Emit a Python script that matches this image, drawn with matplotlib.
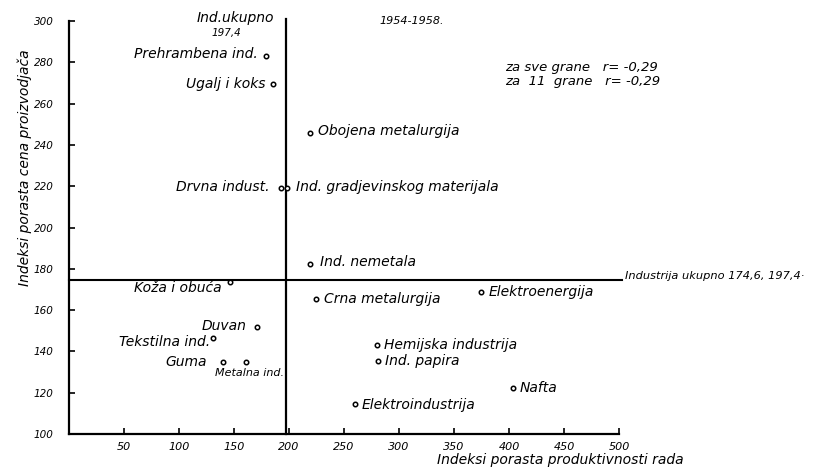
import matplotlib
matplotlib.use("Agg")
import matplotlib.pyplot as plt

# grane industrije: indeks produktivnosti (x), indeks cena (y)
grane = ["Prehrambena ind.", "Ugalj i koks", "Obojena metalurgija", "Drvna indust.",
         "Ind. gradjevinskog materijala", "Ind. nemetala", "Koža i obuća",
         "Crna metalurgija", "Elektroenergija", "Duvan", "Tekstilna ind.", "Guma",
         "Metalna ind.", "Hemijska industrija", "Ind. papira", "Elektroindustrija", "Nafta"]
produktivnost = [179, 185.5, 219, 193, 198, 219, 146, 224.5, 374.5, 171, 131, 140,
                 161, 280, 281, 260, 403.6]
cene = [283, 269.5, 246, 219, 219, 182.3, 173.5, 165.6, 168.8, 152, 146.5, 135,
        135, 143, 135.4, 114.5, 122.3]

ukupno_x = 197.4
ukupno_y = 174.6

x_ticks = [50, 100, 150, 200, 250, 300, 350, 400, 450, 500]
y_ticks = [100, 120, 140, 160, 180, 200, 220, 240, 260, 280, 300]

# pomak natpisa od tacke (px) i poravnanje
offsets = [(-8, 2, "right"), (-8, 0, "right"), (8, 2, "left"), (-12, 1, "right"),
           (9, 1, "left"), (10, 2, "left"), (-8, -6, "right"), (8, 0, "left"),
           (8, 0, "left"), (-11, 1, "right"), (-3, -4, "right"), (-16, 0, "right"),
           (-31, -11, "left"), (7, 0, "left"), (7, 0, "left"), (7, -1, "left"),
           (7, 0, "left")]

fig = plt.figure(figsize=(8.16, 4.67), dpi=100)
ax = fig.add_axes([69 / 816, 1 - 434 / 467, 550 / 816, 413 / 467])
ax.set_xlim(0, 500)
ax.set_ylim(100, 300)

for s in ["top", "right"]:
    ax.spines[s].set_visible(False)
for s in ["left", "bottom"]:
    ax.spines[s].set_linewidth(1.6)

ax.set_xticks(x_ticks)
ax.set_yticks(y_ticks)
ax.set_xticklabels([str(t) for t in x_ticks], fontstyle="italic", fontsize=8)
ax.set_yticklabels([str(t) for t in y_ticks], fontstyle="italic", fontsize=7.5)
ax.tick_params(axis="both", direction="in", length=4, width=1.2)
ax.tick_params(axis="y", pad=11)
ax.tick_params(axis="x", pad=6)

# ukupne linije
ax.plot([0, 503], [ukupno_y, ukupno_y], color="black", lw=1.5, clip_on=False)
ax.plot([ukupno_x, ukupno_x], [100, 301], color="black", lw=1.6, clip_on=False)

ax.plot(produktivnost, cene, "o", ms=3.2, mfc="white", mec="black", mew=1.1)

for name, x, y, (dx, dy, ha) in zip(grane, produktivnost, cene, offsets):
    fs = 8 if name == "Metalna ind." else 10
    ax.annotate(name, (x, y), xytext=(dx, dy), textcoords="offset pixels",
                ha=ha, va="center", fontsize=fs, fontstyle="italic")

ax.annotate("Industrija ukupno 174,6, 197,4·", (503, ukupno_y), xytext=(3, 4),
            textcoords="offset pixels", ha="left", va="center", fontsize=8.2,
            fontstyle="italic", annotation_clip=False)
fig.text(235 / 816, 1 - 18 / 467, "Ind.ukupno", ha="center", va="center",
         fontsize=10, fontstyle="italic")
fig.text(226 / 816, 1 - 33 / 467, "197,4", ha="center", va="center",
         fontsize=7.5, fontstyle="italic")
fig.text(412 / 816, 1 - 21 / 467, "1954-1958.", ha="center", va="center",
         fontsize=8, fontstyle="italic")
fig.text(505 / 816, 1 - 68 / 467, "za sve grane   r= -0,29", ha="left",
         va="center", fontsize=9.5, fontstyle="italic")
fig.text(505 / 816, 1 - 82 / 467, "za  11  grane   r= -0,29", ha="left",
         va="center", fontsize=9.5, fontstyle="italic")

fig.text(560 / 816, 1 - 460 / 467, "Indeksi porasta produktivnosti rada",
         ha="center", va="center", fontsize=10, fontstyle="italic")
fig.text(25 / 816, 1 - 168 / 467, "Indeksi porasta cena proizvodjača",
         ha="center", va="center", rotation=90, fontsize=10, fontstyle="italic")

fig.savefig("out.png", dpi=100)
